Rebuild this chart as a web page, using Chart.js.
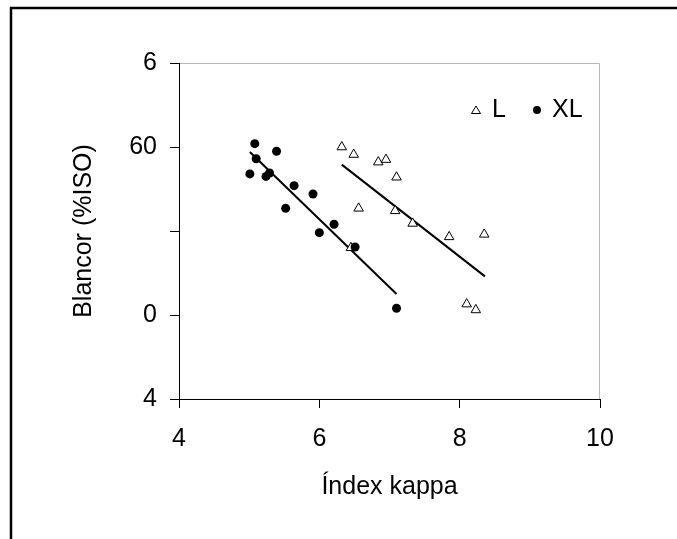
<!DOCTYPE html>
<html>
<head>
<meta charset="utf-8">
<script src="https://cdn.jsdelivr.net/npm/chart.js@4"></script>
<style>
  html, body { margin: 0; padding: 0; background: #fff; overflow: hidden; }
  #wrap { position: relative; width: 677px; height: 539px; }
</style>
</head>
<body>
<div id="wrap"><canvas id="chart" width="677" height="539"></canvas></div>
<script>
// Data
const arrXL_x = [5.08, 5.39, 5.10, 5.01, 5.24, 5.29, 5.64, 5.91, 5.52, 6.21, 6.00, 6.51, 7.10];
const arrXL_y = [70.4, 69.5, 68.6, 66.8, 66.5, 66.9, 65.4, 64.4, 62.7, 60.8, 59.8, 58.1, 50.8];
const arrL_x = [6.32, 6.49, 6.84, 6.95, 7.10, 6.56, 7.08, 7.33, 7.85, 8.35, 6.45, 8.10, 8.23];
const arrL_y = [70.0, 69.1, 68.2, 68.5, 66.4, 62.7, 62.4, 60.9, 59.3, 59.6, 58.0, 51.3, 50.6];

// Trend lines (start / end)
const arrXLFit_x = [5.01, 7.10];
const arrXLFit_y = [69.4, 52.5];
const arrLFit_x = [6.32, 8.36];
const arrLFit_y = [67.9, 54.6];

// Axis ticks (y labels are as printed on the reference)
const arrXTicks = [4, 6, 8, 10];
const arrYTicks = [40, 50, 60, 70, 80];
const arrYTickLabels = ['4', '0', '', '60', '6'];

const strFont = '"Liberation Sans", Arial, sans-serif';

function toPoints(xs, ys) {
    return xs.map((x, i) => ({ x: x, y: ys[i] }));
}

// Outer frame + light grey plot border
const framePlugin = {
    id: 'frame',
    beforeDraw(chart) {
        const ctx = chart.ctx;
        const a = chart.chartArea;
        ctx.save();
        ctx.strokeStyle = '#000';
        ctx.lineWidth = 2.5;
        ctx.beginPath();
        ctx.moveTo(11, 539);
        ctx.lineTo(11, 8);
        ctx.lineTo(677, 8);
        ctx.stroke();
        ctx.strokeStyle = '#b8b8b8';
        ctx.lineWidth = 1;
        ctx.beginPath();
        ctx.moveTo(a.left, a.top + 0.5);
        ctx.lineTo(a.right - 0.5, a.top + 0.5);
        ctx.lineTo(a.right - 0.5, a.bottom);
        ctx.stroke();
        ctx.restore();
    }
};

// Legend drawn inside the plot
const legendPlugin = {
    id: 'innerLegend',
    afterDraw(chart) {
        const ctx = chart.ctx;
        ctx.save();
        ctx.font = '25px ' + strFont;
        ctx.fillStyle = '#000';
        ctx.textBaseline = 'middle';
        ctx.textAlign = 'left';
        // triangle
        ctx.strokeStyle = '#000';
        ctx.lineWidth = 1;
        ctx.fillStyle = '#fff';
        ctx.beginPath();
        ctx.moveTo(476, 106);
        ctx.lineTo(480.5, 113.5);
        ctx.lineTo(471.5, 113.5);
        ctx.closePath();
        ctx.fill();
        ctx.stroke();
        ctx.fillStyle = '#000';
        ctx.fillText('L', 492, 110);
        // circle
        ctx.beginPath();
        ctx.arc(537, 110, 4, 0, Math.PI * 2);
        ctx.fill();
        ctx.fillText('XL', 552, 110);
        ctx.restore();
    }
};

const ctx = document.getElementById('chart').getContext('2d');
new Chart(ctx, {
    type: 'scatter',
    data: {
        datasets: [
            {
                label: 'XL',
                data: toPoints(arrXL_x, arrXL_y),
                pointStyle: 'circle',
                pointRadius: 4.5,
                backgroundColor: '#000',
                borderColor: '#000',
                borderWidth: 0
            },
            {
                label: 'L',
                data: toPoints(arrL_x, arrL_y),
                pointStyle: 'triangle',
                pointRadius: 5.5,
                backgroundColor: '#fff',
                borderColor: '#000',
                borderWidth: 1
            },
            {
                type: 'line',
                label: 'XL fit',
                data: toPoints(arrXLFit_x, arrXLFit_y),
                borderColor: '#000',
                borderWidth: 2,
                pointRadius: 0,
                fill: false
            },
            {
                type: 'line',
                label: 'L fit',
                data: toPoints(arrLFit_x, arrLFit_y),
                borderColor: '#000',
                borderWidth: 2,
                pointRadius: 0,
                fill: false
            }
        ]
    },
    options: {
        responsive: false,
        animation: false,
        layout: { padding: { top: 63, right: 77, left: 0, bottom: 0 } },
        plugins: {
            legend: { display: false },
            tooltip: { enabled: false }
        },
        scales: {
            x: {
                type: 'linear',
                min: 4,
                max: 10,
                afterFit(scale) { scale.height = 140; },
                afterBuildTicks(scale) { scale.ticks = arrXTicks.map(v => ({ value: v })); },
                grid: { drawOnChartArea: false, drawTicks: true, tickLength: 9, color: '#000' },
                border: { display: true, color: '#000', width: 1 },
                ticks: {
                    padding: 16,
                    color: '#000',
                    font: { family: strFont, size: 25 },
                    maxRotation: 0
                },
                title: {
                    display: true,
                    text: 'Índex kappa',
                    color: '#000',
                    font: { family: strFont, size: 25 },
                    padding: { top: 0, bottom: 37 }
                }
            },
            y: {
                type: 'linear',
                min: 40,
                max: 80,
                afterFit(scale) { scale.width = 179; },
                afterBuildTicks(scale) { scale.ticks = arrYTicks.map(v => ({ value: v })); },
                grid: { drawOnChartArea: false, drawTicks: true, tickLength: 9, color: '#000' },
                border: { display: true, color: '#000', width: 1 },
                ticks: {
                    padding: 13,
                    color: '#000',
                    font: { family: strFont, size: 25 },
                    callback: (v) => arrYTickLabels[arrYTicks.indexOf(v)] ?? ''
                },
                title: {
                    display: true,
                    text: 'Blancor (%ISO)',
                    color: '#000',
                    font: { family: strFont, size: 25 },
                    padding: { top: 69, bottom: 0 }
                }
            }
        }
    },
    plugins: [framePlugin, legendPlugin]
});
</script>
</body>
</html>
